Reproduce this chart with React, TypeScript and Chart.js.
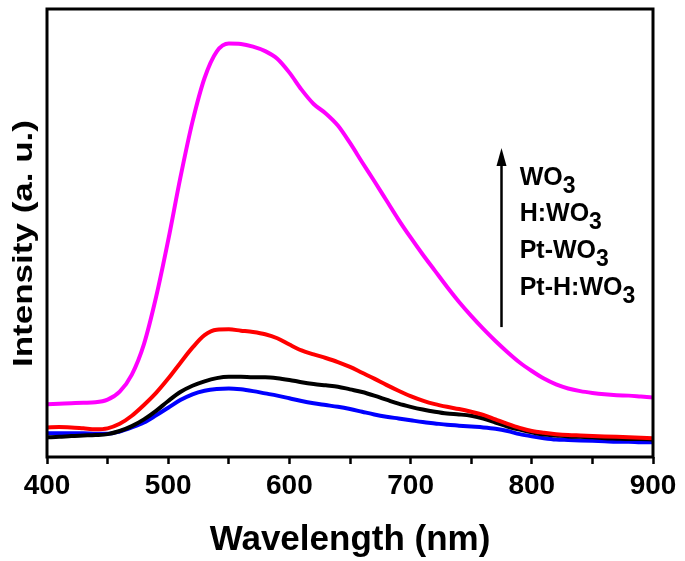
import React, { useEffect, useRef } from 'react';
import { Chart, registerables } from 'chart.js';

Chart.register(...registerables);

const FONT = "'Liberation Sans', Arial, Helvetica, sans-serif";

// Wavelength grid (nm)
const wavelengths = [
  400, 410, 420, 430, 440, 450, 460, 470, 480, 490,
  500, 510, 520, 530, 540, 550, 560, 570, 580, 590,
  600, 610, 620, 630, 640, 650, 660, 670, 680, 690,
  700, 710, 720, 730, 740, 750, 760, 770, 780, 790,
  800, 810, 820, 830, 840, 850, 860, 870, 880, 890, 900,
];

// Intensities (a. u.)
const wo3 = [
  11.8, 11.9, 12.0, 12.1, 12.2, 12.8, 14.6, 18.4, 25.2, 35.7,
  48.4, 62.3, 74.8, 84.6, 90.5, 92.3, 92.2, 91.6, 90.6, 88.9,
  85.8, 82.0, 78.8, 76.7, 74.0, 70.1, 65.8, 61.6, 57.3, 53.0,
  49.0, 45.2, 41.6, 38.0, 34.6, 31.5, 28.6, 25.9, 23.4, 21.1,
  19.2, 17.5, 16.2, 15.3, 14.7, 14.3, 14.0, 13.8, 13.7, 13.5, 13.3,
];

const hWo3 = [
  6.6, 6.7, 6.6, 6.4, 6.2, 6.4, 7.4, 9.2, 11.6, 14.3,
  17.5, 21.0, 24.4, 27.2, 28.4, 28.5, 28.2, 27.9, 27.4, 26.5,
  25.1, 23.8, 22.9, 22.1, 21.2, 20.1, 18.8, 17.5, 16.1, 14.8,
  13.6, 12.6, 11.8, 11.2, 10.7, 10.1, 9.4, 8.4, 7.4, 6.5,
  5.8, 5.4, 5.1, 4.9, 4.8, 4.7, 4.6, 4.5, 4.4, 4.3, 4.2,
];

const ptWo3 = [
  4.4, 4.5, 4.7, 4.8, 4.9, 5.1, 5.8, 6.9, 8.4, 10.3,
  12.5, 14.5, 15.9, 16.9, 17.6, 17.9, 17.9, 17.8, 17.8, 17.6,
  17.2, 16.7, 16.3, 16.0, 15.7, 15.1, 14.5, 13.7, 12.8, 11.9,
  11.2, 10.6, 10.1, 9.7, 9.5, 9.2, 8.6, 7.7, 6.8, 6.1,
  5.5, 5.0, 4.8, 4.6, 4.5, 4.4, 4.2, 4.1, 4.0, 4.0, 3.9,
];

const ptHWo3 = [
  5.3, 5.3, 5.3, 5.3, 5.2, 5.2, 5.7, 6.6, 7.7, 9.3,
  11.0, 12.7, 14.0, 14.8, 15.2, 15.3, 15.1, 14.7, 14.2, 13.7,
  13.1, 12.5, 12.0, 11.6, 11.2, 10.7, 10.1, 9.5, 9.0, 8.6,
  8.2, 7.8, 7.5, 7.2, 7.0, 6.8, 6.6, 6.3, 5.8, 5.1,
  4.6, 4.2, 3.9, 3.8, 3.7, 3.6, 3.5, 3.4, 3.4, 3.3, 3.3,
];

const seriesNames = ['WO3', 'H:WO3', 'Pt-WO3', 'Pt-H:WO3'];
const seriesColors = ['#ff00ff', '#ff0000', '#000000', '#0000ff'];

// Annotation (legend text with arrow), in data units
const legendMain = ['WO', 'H:WO', 'Pt-WO', 'Pt-H:WO'];
const legendSub = '3';
const legendLevels = [60.7, 52.7, 44.4, 36.2];
const legendX = 790;
const arrowX = 775;
const arrowFrom = 29.0;
const arrowTo = 69.0;

const xTitle = 'Wavelength (nm)';
const yTitle = 'Intensity (a. u.)';

const annotationPlugin = {
  id: 'annotations',
  afterDatasetsDraw(chart: any) {
    const { ctx, chartArea: a, scales } = chart;
    const x = scales.x;
    const y = scales.y;
    ctx.save();

    // frame
    ctx.strokeStyle = '#000';
    ctx.lineWidth = 3;
    ctx.strokeRect(a.left, a.top, a.right - a.left, a.bottom - a.top);

    // arrow
    const ax = x.getPixelForValue(arrowX);
    const ay0 = y.getPixelForValue(arrowFrom);
    const ay1 = y.getPixelForValue(arrowTo);
    ctx.lineWidth = 2.5;
    ctx.beginPath();
    ctx.moveTo(ax, ay0);
    ctx.lineTo(ax, ay1 + 12);
    ctx.stroke();
    ctx.fillStyle = '#000';
    ctx.beginPath();
    ctx.moveTo(ax, ay1);
    ctx.lineTo(ax - 5, ay1 + 18);
    ctx.lineTo(ax + 5, ay1 + 18);
    ctx.closePath();
    ctx.fill();

    // legend labels with subscripts
    const lx = x.getPixelForValue(legendX);
    ctx.textAlign = 'left';
    ctx.textBaseline = 'alphabetic';
    legendMain.forEach((t, i) => {
      const by = y.getPixelForValue(legendLevels[i]);
      ctx.font = `bold 25px ${FONT}`;
      ctx.fillText(t, lx, by);
      const w = ctx.measureText(t).width;
      ctx.font = `bold 23px ${FONT}`;
      ctx.fillText(legendSub, lx + w, by + 8);
    });

    // y-axis title
    ctx.translate(a.left - 15.3, (a.top + a.bottom) / 2 + 10.5);
    ctx.rotate(-Math.PI / 2);
    ctx.font = `bold 27px ${FONT}`;
    const tw = ctx.measureText(yTitle).width;
    ctx.scale(247 / tw, 1);
    ctx.textAlign = 'center';
    ctx.fillText(yTitle, 0, 0);

    ctx.restore();
  },
};

export default function App() {
  const canvasRef = useRef<HTMLCanvasElement | null>(null);

  useEffect(() => {
    if (!canvasRef.current) return;
    Chart.defaults.font.family = FONT;
    const series = [wo3, hWo3, ptWo3, ptHWo3];
    const chart = new Chart(canvasRef.current, {
      type: 'line',
      data: {
        datasets: series.map((vals, i) => ({
          label: seriesNames[i],
          data: wavelengths.map((w, j) => ({ x: w, y: vals[j] })),
          borderColor: seriesColors[i],
          backgroundColor: seriesColors[i],
          borderWidth: 4,
          pointRadius: 0,
          cubicInterpolationMode: 'monotone',
          borderCapStyle: 'round',
          borderJoinStyle: 'round',
          fill: false,
        })),
      },
      options: {
        responsive: false,
        animation: false,
        devicePixelRatio: 1,
        layout: { padding: { top: 9, right: 32, left: 0, bottom: 0 } },
        plugins: {
          legend: { display: false },
          tooltip: { enabled: false },
        },
        scales: {
          x: {
            type: 'linear',
            min: 400,
            max: 900,
            afterFit: (s: any) => {
              s.height = 104;
            },
            ticks: {
              stepSize: 50,
              autoSkip: false,
              maxRotation: 0,
              minRotation: 0,
              padding: 5,
              color: '#000',
              font: { family: FONT, size: 28, weight: 'bold' },
              callback: (v: any) => (Number(v) % 100 === 0 ? String(v) : ''),
            },
            grid: {
              display: true,
              drawOnChartArea: false,
              drawTicks: true,
              tickLength: 7,
              tickWidth: 2.5,
              tickColor: '#000',
            },
            border: { display: false },
            title: {
              display: true,
              text: xTitle,
              color: '#000',
              font: { family: FONT, size: 35, weight: 'bold' },
              padding: { top: 6, bottom: 0 },
            },
          },
          y: {
            type: 'linear',
            min: 0,
            max: 100,
            afterFit: (s: any) => {
              s.width = 47;
            },
            ticks: { display: false },
            grid: { display: false },
            border: { display: false },
          },
        },
      },
      plugins: [annotationPlugin],
    } as any);
    return () => chart.destroy();
  }, []);

  return (
    <div style={{ position: 'fixed', left: 0, top: 0, width: 685, height: 561, background: '#fff' }}>
      <canvas ref={canvasRef} width={685} height={561} style={{ display: 'block' }} />
    </div>
  );
}
